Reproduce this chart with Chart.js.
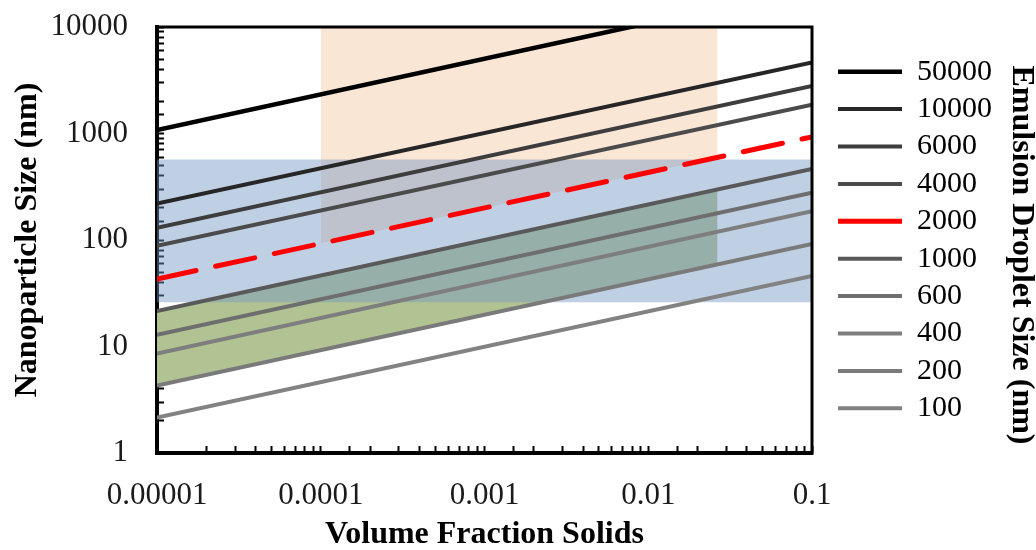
<!DOCTYPE html>
<html>
<head>
<meta charset="utf-8">
<script src="https://cdn.jsdelivr.net/npm/chart.js@4.4.0/dist/chart.umd.min.js"></script>
<style>
  html, body { margin: 0; padding: 0; background: #fff; }
</style>
</head>
<body>
<canvas id="myChart" width="1036" height="550"></canvas>
<script>
// volume fraction end points of every line
const fractions = [0.00001, 0.1];
// emulsion droplet sizes (legend) and nanoparticle size read at both ends
const dropletSizes = ['50000', '10000', '6000', '4000', '2000', '1000', '600', '400', '200', '100'];
const sizeAtMin = [1080, 220, 130, 88, 43, 21.5, 12.9, 8.6, 4.3, 2.15];
const sizeAtMax = [23500, 4650, 2790, 1860, 930, 465, 278, 186, 92, 46];

// shaded regions
const blueBand = [26, 570];
const orangeX = [0.0001, 0.0265];
const orangeLow = [93, 595];
const greenX = [0.00001, 0.0265];
const greenTop = [21.5, 298];
const greenBottom = [4.3, 60];

const xTickLabels = ['0.00001', '0.0001', '0.001', '0.01', '0.1'];
const yTickLabels = ['1', '10', '100', '1000', '10000'];

const lineColors = ['#000000', '#262626', '#3d3d3d', '#4b4b4b', '#ff0000', '#595959', '#6e6e6e', '#7e7e7e', '#7a7a7a', '#828282'];

const serif = '"Liberation Serif", "Times New Roman", serif';

const pts = (xs, ys) => xs.map((x, i) => ({ x, y: ys[i] }));

const lineSets = dropletSizes.map((name, i) => ({
  label: name,
  data: pts(fractions, [sizeAtMin[i], sizeAtMax[i]]),
  borderColor: lineColors[i],
  backgroundColor: lineColors[i],
  borderWidth: i === 0 ? 4.5 : (name === '2000' ? 5 : 4),
  borderDash: name === '2000' ? [40, 20] : [],
  borderCapStyle: 'round',
  pointRadius: 0,
  fill: false,
  order: 0,
  clip: i === 0 ? 0 : undefined
}));

const regionSets = [
  {
    label: 'blue',
    data: pts(fractions, [blueBand[1], blueBand[1]]),
    borderWidth: 0, pointRadius: 0,
    backgroundColor: 'rgba(115,150,195,0.45)',
    fill: { value: blueBand[0] },
    order: 1
  },
  {
    label: 'orange',
    data: pts(orangeX, orangeLow),
    borderWidth: 0, pointRadius: 0,
    backgroundColor: '#f9e6d5',
    fill: 'end',
    order: 2
  },
  {
    label: 'green',
    data: pts(greenX, greenTop),
    borderWidth: 0, pointRadius: 0,
    backgroundColor: '#b2c393',
    fill: 13,
    order: 2
  },
  {
    label: 'greenBase',
    data: pts(greenX, greenBottom),
    borderWidth: 0, pointRadius: 0,
    backgroundColor: 'rgba(0,0,0,0)',
    fill: false,
    order: 3
  }
];

const isDecade = v => Math.abs(Math.log10(v) - Math.round(Math.log10(v))) < 1e-6;

// fixed legend column width, legend moved next to the plot area
const legendBox = {
  id: 'legendBox',
  afterInit(chart) {
    const lg = chart.legend;
    const fit = lg.fit.bind(lg);
    lg.fit = function () { fit(); this.width = 224; };
  },
  afterLayout(chart) {
    const lg = chart.legend;
    lg.left += 18.6;
    const shift = (lg.top + lg.bottom) / 2 - (chart.chartArea.top + chart.chartArea.bottom) / 2;
    lg.top -= shift;
    lg.bottom -= shift;
  }
};

const frame = {
  id: 'frame',
  afterDraw(chart) {
    const { ctx, chartArea: a } = chart;
    ctx.save();
    ctx.strokeStyle = '#000';
    ctx.lineWidth = 3;
    ctx.beginPath();
    ctx.moveTo(a.left, a.top);
    ctx.lineTo(a.right, a.top);
    ctx.lineTo(a.right, a.bottom);
    ctx.stroke();
    // right-hand legend title
    ctx.fillStyle = '#000';
    ctx.font = 'bold 32px ' + serif;
    ctx.textAlign = 'center';
    ctx.textBaseline = 'middle';
    ctx.translate(chart.width - 15, 255);
    ctx.rotate(Math.PI / 2);
    ctx.fillText('Emulsion Droplet Size (nm)', 0, 0);
    ctx.restore();
  }
};

new Chart(document.getElementById('myChart'), {
  type: 'line',
  data: { datasets: lineSets.concat(regionSets) },
  options: {
    responsive: false,
    animation: false,
    layout: { padding: { left: 0, top: 27, right: 0, bottom: 0 } },
    scales: {
      x: {
        type: 'logarithmic',
        min: 0.00001,
        max: 0.1,
        afterFit: s => { s.height = 97; s.paddingLeft = 0; s.paddingRight = 0; },
        border: { color: '#000', width: 4 },
        grid: { drawOnChartArea: false, color: '#000', tickLength: -7, tickWidth: 2 },
        ticks: {
          autoSkip: false, maxRotation: 0, padding: 31,
          color: '#1a1a1a',
          font: { family: serif, size: 31 },
          callback: v => isDecade(v) ? xTickLabels[Math.round(Math.log10(v)) + 5] : ''
        },
        title: {
          display: true, text: 'Volume Fraction Solids', color: '#000',
          font: { family: serif, size: 32, weight: 'bold' },
          padding: { top: 0, bottom: -4 }
        }
      },
      y: {
        type: 'logarithmic',
        min: 1,
        max: 10000,
        afterFit: s => { s.width = 157; s.paddingTop = 0; s.paddingBottom = 0; },
        border: { color: '#000', width: 4 },
        grid: { drawOnChartArea: false, color: '#000', tickLength: -7, tickWidth: 2 },
        ticks: {
          autoSkip: false, padding: 36,
          color: '#1a1a1a',
          font: { family: serif, size: 31 },
          callback: v => isDecade(v) ? yTickLabels[Math.round(Math.log10(v))] : ''
        },
        title: {
          display: true, text: 'Nanoparticle Size (nm)', color: '#000',
          font: { family: serif, size: 32, weight: 'bold' },
          padding: { top: 9, bottom: 0 }
        }
      }
    },
    plugins: {
      legend: {
        position: 'right',
        align: 'center',
        labels: {
          usePointStyle: true,
          pointStyle: 'line',
          pointStyleWidth: 64,
          padding: 7.4,
          color: '#000',
          font: { family: serif, size: 30 },
          filter: item => item.datasetIndex < dropletSizes.length
        }
      },
      tooltip: { enabled: false }
    }
  },
  plugins: [legendBox, frame]
});
</script>
</body>
</html>
